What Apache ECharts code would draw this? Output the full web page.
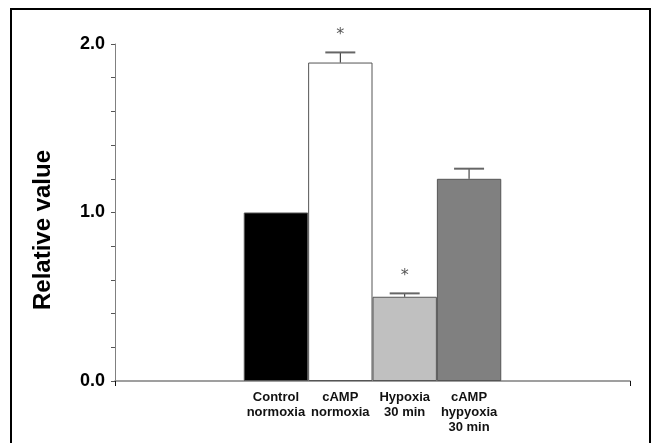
<!DOCTYPE html>
<html>
<head>
<meta charset="utf-8">
<script src="https://cdn.jsdelivr.net/npm/echarts@6/dist/echarts.min.js"></script>
<style>html,body{margin:0;padding:0;background:#fff;}#c{width:657px;height:443px;}</style>
</head>
<body>
<div id="c"></div>
<script>
// Data
const categories = ['', '', 'Control\nnormoxia', 'cAMP\nnormoxia', 'Hypoxia\n30 min', 'cAMP\nhypyoxia\n30 min', '', ''];
const values = [null, null, 1.0, 1.89, 0.50, 1.20, null, null];
const errors = [null, null, 0, 0.06, 0.02, 0.06, null, null];
const marks = ['', '', '', '*', '*', '', '', ''];
const barColors = ['#fff', '#fff', '#000000', '#ffffff', '#c0c0c0', '#808080', '#fff', '#fff'];
const yTicks = [0, 1, 2];
const yTitle = 'Relative value';

const chart = echarts.init(document.getElementById('c'), null, {renderer: 'canvas'});
const FONT = 'Liberation Sans, Arial, Helvetica, sans-serif';

const barData = values.map((v, i) => v === null ? null : ({
  value: v,
  itemStyle: {color: barColors[i], borderColor: '#555', borderWidth: 1}
}));

const errData = values.map((v, i) => [i, v, errors[i], marks[i]]).filter(d => d[1] !== null);

chart.setOption({
  animation: false,
  grid: {left: 115, right: 27, top: 44, bottom: 62},
  xAxis: {
    type: 'category',
    data: categories,
    boundaryGap: true,
    axisLine: {lineStyle: {color: '#808080', width: 1.5}},
    axisTick: {
      show: true,
      length: 5,
      lineStyle: {color: '#111', width: 1},
      interval: function (index) { return index === 4; }
    },
    axisLabel: {
      interval: 0,
      margin: 9,
      color: '#111',
      fontFamily: FONT,
      fontWeight: 'bold',
      fontSize: 13,
      lineHeight: 15
    }
  },
  yAxis: {
    type: 'value',
    min: 0,
    max: 2,
    interval: 0.2,
    splitLine: {show: false},
    axisLine: {show: true, lineStyle: {color: '#808080', width: 1}},
    axisTick: {show: true, length: 4, lineStyle: {color: '#555'}},
    axisLabel: {
      margin: 10,
      color: '#000',
      fontFamily: FONT,
      fontWeight: 'bold',
      fontSize: 18,
      formatter: function (v) {
        for (const t of yTicks) { if (Math.abs(v - t) < 1e-6) return t.toFixed(1); }
        return '';
      }
    }
  },
  graphic: [
    {type: 'rect', shape: {x: 11, y: 9, width: 639, height: 450}, style: {fill: 'none', stroke: '#000', lineWidth: 2}, silent: true, z: 100},
    {type: 'text', x: 43, y: 230, rotation: Math.PI / 2,
     style: {text: yTitle, fill: '#000', font: 'bold 24px ' + FONT, textAlign: 'center', textVerticalAlign: 'middle'}}
  ],
  series: [
    {
      type: 'bar',
      data: barData,
      barWidth: '100%',
      barGap: '-100%'
    },
    {
      type: 'custom',
      data: errData,
      z: 10,
      renderItem: function (params, api) {
        const i = api.value(0), v = api.value(1), e = api.value(2);
        const mark = errData[params.dataIndex][3];
        const p0 = api.coord([i, v]);
        const p1 = api.coord([i, v + e]);
        const children = [];
        if (e > 0) {
          children.push({type: 'line', shape: {x1: p0[0], y1: p0[1], x2: p1[0], y2: p1[1]}, style: {stroke: '#222', lineWidth: 1}});
          children.push({type: 'line', shape: {x1: p1[0] - 15, y1: p1[1], x2: p1[0] + 15, y2: p1[1]}, style: {stroke: '#666', lineWidth: 2}});
        }
        if (mark) {
          children.push({type: 'text', x: p1[0], y: p1[1] - 18,
            style: {text: mark, fill: '#555', font: '16px DejaVu Sans', textAlign: 'center', textVerticalAlign: 'middle'}});
        }
        return {type: 'group', children: children};
      }
    }
  ]
});
</script>
</body>
</html>
